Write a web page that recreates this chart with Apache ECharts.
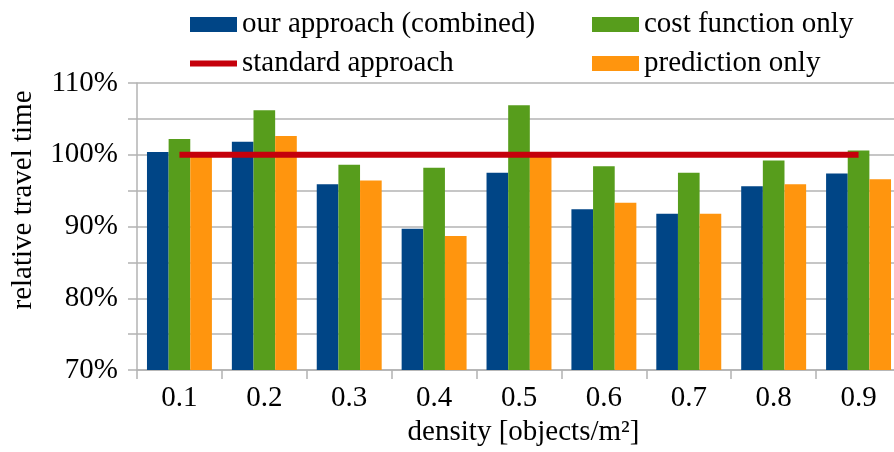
<!DOCTYPE html>
<html>
<head>
<meta charset="utf-8">
<script src="https://cdn.jsdelivr.net/npm/echarts@6/dist/echarts.min.js"></script>
<style>
  html, body { margin: 0; padding: 0; background: #ffffff; overflow: hidden; }
  #chart { width: 901px; height: 452px; }
</style>
</head>
<body>
<div id="chart"></div>
<script>
// Relative travel time per obstacle density
const densities = ['0.1', '0.2', '0.3', '0.4', '0.5', '0.6', '0.7', '0.8', '0.9'];
const combined = [100.4, 101.8, 95.9, 89.7, 97.5, 92.4, 91.8, 95.6, 97.4];
const costFunctionOnly = [102.2, 106.2, 98.6, 98.2, 106.9, 98.4, 97.5, 99.2, 100.6];
const predictionOnly = [100.0, 102.6, 96.4, 88.7, 100.0, 93.3, 91.8, 95.9, 96.6];
const standardApproach = [100, 100, 100, 100, 100, 100, 100, 100, 100];
const seriesNames = ['our approach (combined)', 'cost function only', 'prediction only', 'standard approach'];

const FONT = 'Liberation Serif';
const GREY = '#b3b3b3';

const chart = echarts.init(document.getElementById('chart'), null, { renderer: 'canvas' });

const legendBase = {
  orient: 'vertical', top: 4.5, itemGap: 9,
  itemWidth: 47, itemHeight: 15, symbolKeepAspect: true,
  selectedMode: false,
  textStyle: { fontFamily: FONT, fontSize: 29, color: '#000', lineHeight: 30 }
};

chart.setOption({
  animation: false,
  backgroundColor: '#ffffff',
  textStyle: { fontFamily: FONT, fontSize: 29, color: '#000' },
  grid: { left: 137, right: 0, top: 83, bottom: 79, containLabel: false },
  legend: [
    Object.assign({}, legendBase, {
      left: 185,
      data: [
        { name: seriesNames[0], icon: 'rect' },
        { name: seriesNames[3], icon: 'path://M0,0h47v6h-47z' }
      ]
    }),
    Object.assign({}, legendBase, {
      left: 587,
      data: [
        { name: seriesNames[1], icon: 'rect' },
        { name: seriesNames[2], icon: 'rect' }
      ]
    })
  ],
  graphic: [{
    type: 'text', x: 23, y: 200, rotation: Math.PI / 2,
    style: {
      text: 'relative travel time', font: '29px "Liberation Serif"', fill: '#000',
      textAlign: 'center', textVerticalAlign: 'middle'
    }
  }],
  xAxis: {
    type: 'category',
    data: densities,
    name: 'density [objects/m²]',
    nameLocation: 'middle',
    nameGap: 47,
    nameTextStyle: { fontFamily: FONT, fontSize: 29, color: '#000', padding: [0, 0, 0, 9] },
    axisLine: { lineStyle: { color: GREY, width: 1.5 } },
    axisTick: { show: true, length: 9, lineStyle: { color: GREY, width: 1.5 } },
    axisLabel: { fontFamily: FONT, fontSize: 29, color: '#000', margin: 14 },
    splitLine: { show: false }
  },
  yAxis: {
    type: 'value',
    min: 70, max: 110, interval: 5,
    axisLine: { show: true, lineStyle: { color: GREY, width: 1.5 } },
    axisTick: { show: true, length: 9, lineStyle: { color: GREY, width: 1.5 } },
    axisLabel: {
      fontFamily: FONT, fontSize: 29, color: '#000', margin: 19,
      formatter: v => (v % 10 === 0 ? v + '%' : '')
    },
    splitLine: { show: true, lineStyle: { color: GREY, width: 1.5 } }
  },
  series: [
    {
      name: seriesNames[0], type: 'bar', data: combined,
      itemStyle: { color: '#004586' }, barGap: '0%', barCategoryGap: '23.5%'
    },
    {
      name: seriesNames[1], type: 'bar', data: costFunctionOnly,
      itemStyle: { color: '#579d1c' }, barGap: '0%', barCategoryGap: '23.5%'
    },
    {
      name: seriesNames[2], type: 'bar', data: predictionOnly,
      itemStyle: { color: '#ff950e' }, barGap: '0%', barCategoryGap: '23.5%'
    },
    {
      name: seriesNames[3], type: 'line', data: standardApproach,
      showSymbol: false, symbol: 'none', z: 5,
      itemStyle: { color: '#c5000b' },
      lineStyle: { color: '#c5000b', width: 6, cap: 'butt' }
    }
  ]
});
</script>
</body>
</html>
